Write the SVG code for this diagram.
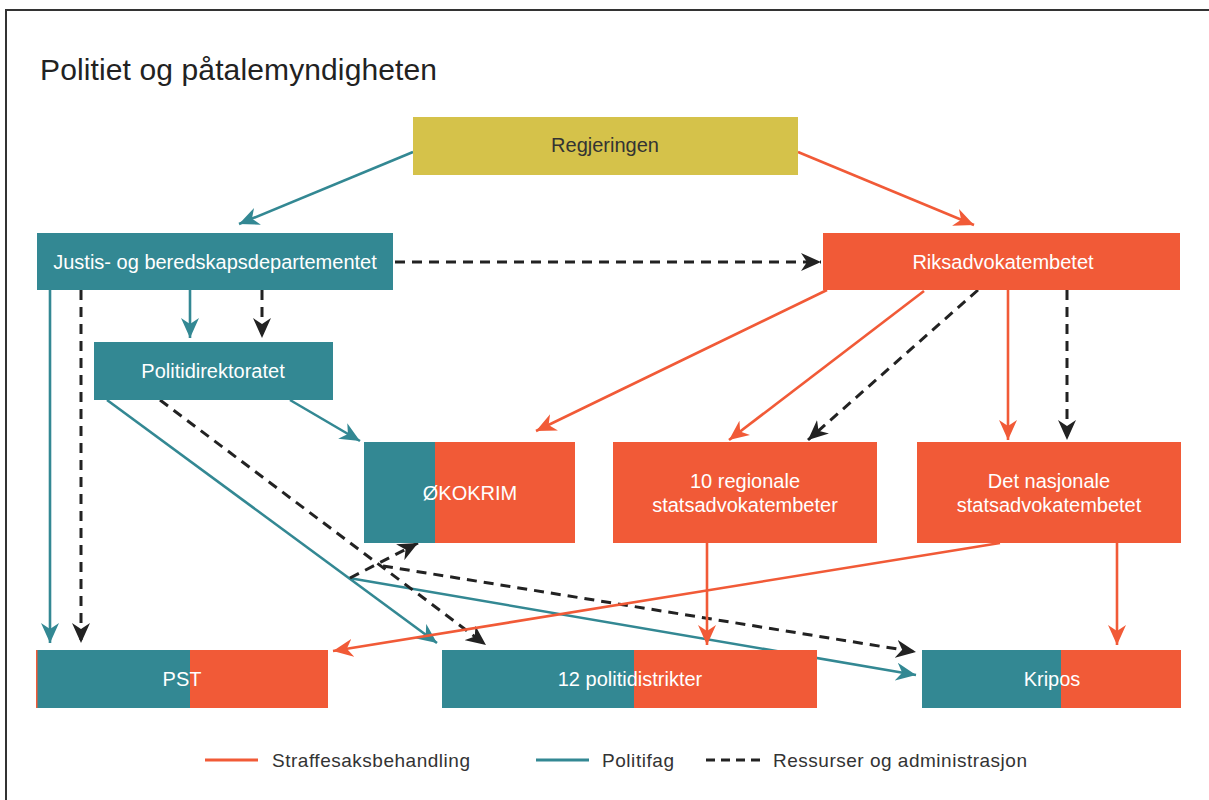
<svg xmlns="http://www.w3.org/2000/svg" width="1209" height="800" viewBox="0 0 1209 800">
<defs>
<style>
.t{font-family:"Liberation Sans",Arial,sans-serif;font-size:20px;fill:#ffffff;text-anchor:middle}
.dark{fill:#333333}
.lg{font-family:"Liberation Sans",Arial,sans-serif;font-size:19px;fill:#333333}
.teal{fill:#338893}
.org{fill:#f15a37}
.ct{stroke:#338893;stroke-width:2.6;fill:none;marker-end:url(#at)}
.co{stroke:#f15a37;stroke-width:2.6;fill:none;marker-end:url(#ao)}
.cd{stroke:#222222;stroke-width:3;stroke-dasharray:10 7;fill:none;marker-end:url(#ad)}
</style>
<marker id="at" markerUnits="userSpaceOnUse" markerWidth="20" markerHeight="18" refX="20" refY="9" orient="auto"><path d="M0,0 L20,9 L0,18 L6,9 Z" fill="#338893"/></marker>
<marker id="ao" markerUnits="userSpaceOnUse" markerWidth="20" markerHeight="18" refX="20" refY="9" orient="auto"><path d="M0,0 L20,9 L0,18 L6,9 Z" fill="#f15a37"/></marker>
<marker id="ad" markerUnits="userSpaceOnUse" markerWidth="20" markerHeight="18" refX="20" refY="9" orient="auto"><path d="M0,0 L20,9 L0,18 L6,9 Z" fill="#222222"/></marker>
</defs>
<rect width="1209" height="800" fill="#ffffff"/>
<path d="M6,800 L6,10 L1209,10" fill="none" stroke="#333333" stroke-width="2"/>
<text x="40" y="80" font-family="Liberation Sans,Arial,sans-serif" font-size="30" fill="#222222" textLength="397">Politiet og påtalemyndigheten</text>

<g id="connectors">
<line class="ct" x1="413" y1="152" x2="239" y2="224"/>
<line class="co" x1="798" y1="152" x2="974" y2="225"/>
<line class="cd" x1="395" y1="262" x2="821" y2="262"/>
<line class="ct" x1="50" y1="290" x2="50" y2="643"/>
<line class="cd" x1="81" y1="290" x2="81" y2="643"/>
<line class="ct" x1="190" y1="290" x2="190" y2="338"/>
<line class="cd" x1="262" y1="290" x2="262" y2="338"/>
<line class="ct" x1="290" y1="400" x2="360" y2="441"/>
<line class="ct" x1="107" y1="400" x2="437" y2="643"/>
<line class="ct" x1="349" y1="578" x2="916" y2="675"/>
<line class="cd" x1="160" y1="400" x2="486" y2="645"/>
<line class="cd" x1="350" y1="578" x2="418" y2="543"/>
<line class="cd" x1="383" y1="566" x2="916" y2="652"/>
<line class="co" x1="827" y1="290" x2="536" y2="431"/>
<line class="co" x1="924" y1="291" x2="729" y2="440"/>
<line class="cd" x1="978" y1="290" x2="808" y2="440"/>
<line class="co" x1="1008" y1="290" x2="1008" y2="440"/>
<line class="cd" x1="1067" y1="290" x2="1067" y2="440"/>
<line class="co" x1="707" y1="543" x2="707" y2="645"/>
<line class="co" x1="1117" y1="543" x2="1117" y2="645"/>
<line class="co" x1="1000" y1="543" x2="333" y2="651"/>
</g>

<g id="regjeringen">
<rect x="413" y="117" width="385" height="58" fill="#d5c24a"/>
<text class="t dark" x="605" y="152">Regjeringen</text>
</g>
<g id="justis">
<rect class="teal" x="37" y="233" width="356" height="57"/>
<text class="t" x="215" y="269">Justis- og beredskapsdepartementet</text>
</g>
<g id="riksadvokat">
<rect class="org" x="823" y="233" width="357" height="57"/>
<text class="t" x="1003" y="269">Riksadvokatembetet</text>
</g>
<g id="politidirektoratet">
<rect class="teal" x="94" y="342" width="239" height="58"/>
<text class="t" x="213" y="378">Politidirektoratet</text>
</g>
<g id="okokrim">
<rect class="org" x="364" y="442" width="211" height="101"/>
<rect class="teal" x="364" y="442" width="71" height="101"/>
<text class="t" x="470" y="500">ØKOKRIM</text>
</g>
<g id="regionale">
<rect class="org" x="613" y="442" width="264" height="101"/>
<text class="t" x="745" y="488">10 regionale</text>
<text class="t" x="745" y="512">statsadvokatembeter</text>
</g>
<g id="nasjonale">
<rect class="org" x="917" y="442" width="264" height="101"/>
<text class="t" x="1049" y="488">Det nasjonale</text>
<text class="t" x="1049" y="512">statsadvokatembetet</text>
</g>
<g id="pst">
<rect class="org" x="36" y="650" width="292" height="58"/>
<rect class="teal" x="37.5" y="650" width="152.5" height="58"/>
<text class="t" x="182" y="686">PST</text>
</g>
<g id="politidistrikter">
<rect class="org" x="442" y="650" width="375" height="58"/>
<rect class="teal" x="442" y="650" width="192" height="58"/>
<text class="t" x="630" y="686">12 politidistrikter</text>
</g>
<g id="kripos">
<rect class="org" x="922" y="650" width="259" height="58"/>
<rect class="teal" x="922" y="650" width="139" height="58"/>
<text class="t" x="1052" y="686">Kripos</text>
</g>

<g id="legend">
<line x1="205" y1="760" x2="258" y2="760" stroke="#f15a37" stroke-width="3"/>
<text class="lg" x="272" y="767" textLength="198">Straffesaksbehandling</text>
<line x1="536" y1="760" x2="589" y2="760" stroke="#338893" stroke-width="3"/>
<text class="lg" x="602" y="767" textLength="72">Politifag</text>
<line x1="706" y1="760" x2="760" y2="760" stroke="#222222" stroke-width="3" stroke-dasharray="9 6"/>
<text class="lg" x="773" y="767" textLength="254">Ressurser og administrasjon</text>
</g>
</svg>
